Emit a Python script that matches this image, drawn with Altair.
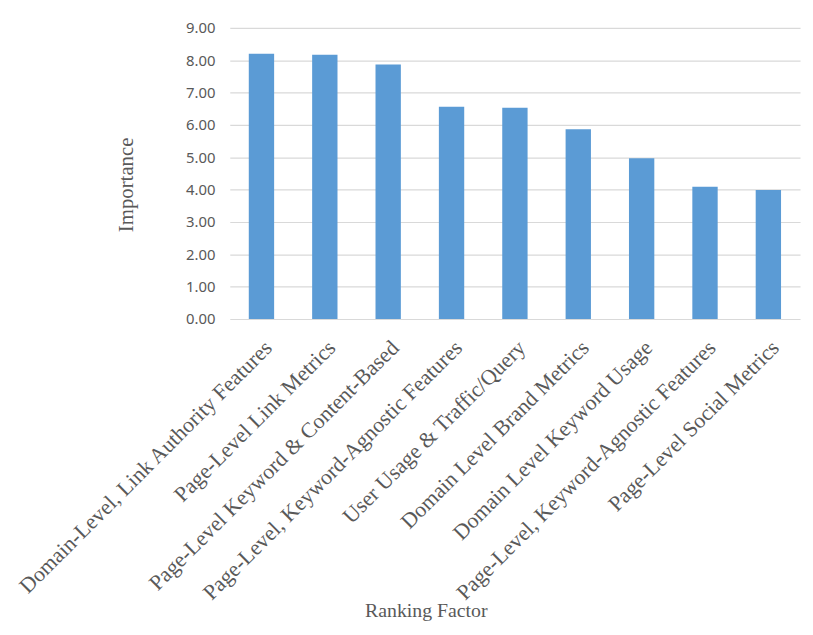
import altair as alt
import pandas as pd

factors = [
    "Domain-Level, Link Authority Features",
    "Page-Level Link Metrics",
    "Page-Level Keyword & Content-Based",
    "Page-Level, Keyword-Agnostic Features",
    "User Usage & Traffic/Query",
    "Domain Level Brand Metrics",
    "Domain Level Keyword Usage",
    "Page-Level, Keyword-Agnostic Features ",
    "Page-Level Social Metrics",
]
importance = [8.20, 8.17, 7.87, 6.56, 6.53, 5.87, 4.97, 4.09, 3.99]

df = pd.DataFrame({"factor": factors, "importance": importance})

chart = alt.Chart(df).mark_bar(color="#5b9bd5").encode(
    x=alt.X(
        "factor:N",
        sort=factors,
        title="Ranking Factor",
        scale=alt.Scale(paddingInner=0.6, paddingOuter=0.3, range=[0, 576]),
        axis=alt.Axis(
            labelAngle=-45,
            labelAlign="right",
            labelBaseline="top",
            labelFont="Liberation Serif",
            labelFontSize=22,
            labelColor="#595959",
            labelPadding=18,
            labelLimit=0,
            ticks=False,
            domain=False,
            grid=False,
            titleFont="Liberation Serif",
            titleFontSize=20,
            titleFontWeight="normal",
            titleColor="#595959",
            titleX=198,
            titleY=294,
            titleAlign="center",
            titleBaseline="middle",
        ),
    ),
    y=alt.Y(
        "importance:Q",
        title="Importance",
        scale=alt.Scale(domain=[0, 9], nice=False),
        axis=alt.Axis(
            values=[0, 1, 2, 3, 4, 5, 6, 7, 8, 9],
            format=".2f",
            labelFont="Noto Sans",
            labelFontSize=15,
            labelColor="#595959",
            labelPadding=15,
            ticks=False,
            domain=False,
            gridColor="#d9d9d9",
            gridWidth=1.2,
            titleFont="Liberation Serif",
            titleFontSize=21,
            titleFontWeight="normal",
            titleColor="#595959",
            titleAngle=-90,
            titleX=-104,
            titleY=158,
            titleAlign="center",
            titleBaseline="middle",
        ),
    ),
).properties(
    width=581,
    height=294,
    autosize=alt.AutoSizeParams(type="none"),
    padding={"left": 224, "top": 17, "right": 0, "bottom": 314},
).configure_view(stroke=None)

chart.save("out.html", embed_options={"renderer": "svg", "actions": False})
